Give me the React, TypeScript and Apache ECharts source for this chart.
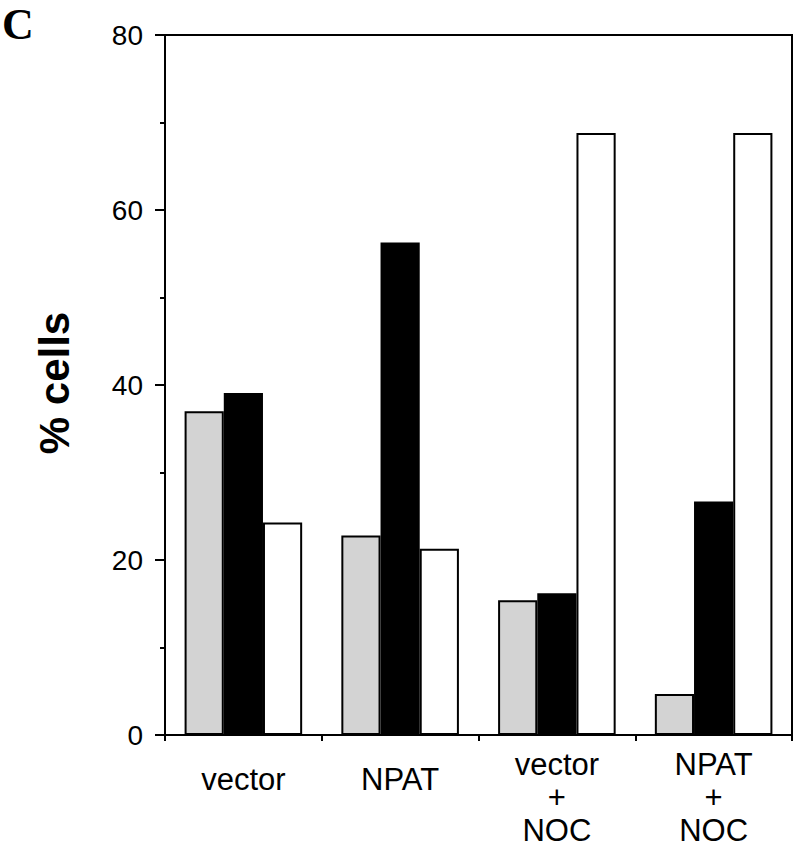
import React, { useEffect, useRef } from "react";
import * as echarts from "echarts";

const categories = ["vector", "NPAT", "vector\n+\nNOC", "NPAT\n+\nNOC"];
const grayValues = [37.0, 22.8, 15.4, 4.7];
const blackValues = [39.1, 56.3, 16.2, 26.7];
const whiteValues = [24.3, 21.3, 68.8, 68.8];
const yTicks = [0, 20, 40, 60, 80];

export default function App() {
  const ref = useRef<HTMLDivElement>(null);
  useEffect(() => {
    if (!ref.current) return;
    const chart = echarts.init(ref.current, undefined, { renderer: "svg" });
    const font = "Liberation Sans, Arial, sans-serif";
    const barStyle = (color: string) => ({
      color,
      borderColor: "#000",
      borderWidth: 2,
    });
    chart.setOption({
      animation: false,
      backgroundColor: "#fff",
      grid: {
        left: 165,
        right: 8,
        top: 35,
        bottom: 111,
        show: true,
        borderColor: "#000",
        borderWidth: 2,
      },
      xAxis: {
        type: "category",
        data: categories,
        axisLine: { lineStyle: { color: "#000", width: 2 } },
        axisTick: { show: true, length: 6, lineStyle: { color: "#000", width: 2 } },
        axisLabel: {
          color: "#000",
          fontFamily: font,
          fontSize: 31,
          lineHeight: 33,
          margin: 13,
          interval: 0,
          formatter: (v: string) => (v.indexOf("\n") >= 0 ? v : "{s|" + v + "}"),
          rich: {
            s: { fontFamily: font, fontSize: 31, lineHeight: 63, color: "#000" },
          },
        },
      },
      yAxis: {
        type: "value",
        min: yTicks[0],
        max: yTicks[yTicks.length - 1],
        interval: 20,
        axisLine: { show: true, lineStyle: { color: "#000", width: 2 } },
        axisTick: { show: true, length: 10, lineStyle: { color: "#000", width: 2 } },
        minorTick: { show: true, splitNumber: 2, length: 5, lineStyle: { color: "#000", width: 2 } },
        splitLine: { show: false },
        axisLabel: {
          color: "#000",
          fontFamily: font,
          fontSize: 28,
          margin: 22,
        },
      },
      series: [
        { type: "bar", data: grayValues, itemStyle: barStyle("#d3d3d3"), barGap: "0%", barCategoryGap: "25%" },
        { type: "bar", data: blackValues, itemStyle: barStyle("#000"), barGap: "0%", barCategoryGap: "25%" },
        { type: "bar", data: whiteValues, itemStyle: barStyle("#fff"), barGap: "0%", barCategoryGap: "25%" },
      ],
      graphic: [
        {
          type: "text",
          x: 54,
          y: 383,
          rotation: Math.PI / 2,
          style: {
            text: "% cells",
            fontFamily: font,
            fontWeight: "bold",
            fontSize: 42,
            fill: "#000",
            textAlign: "center",
            textVerticalAlign: "middle",
          },
        },
        {
          type: "text",
          x: 2,
          y: 2,
          style: {
            text: "C",
            fontFamily: "Liberation Serif, Times New Roman, serif",
            fontWeight: "bold",
            fontSize: 44,
            fill: "#000",
          },
        },
      ],
    });
    return () => chart.dispose();
  }, []);
  return <div ref={ref} style={{ width: 800, height: 847, position: "absolute", left: 0, top: 0 }} />;
}
